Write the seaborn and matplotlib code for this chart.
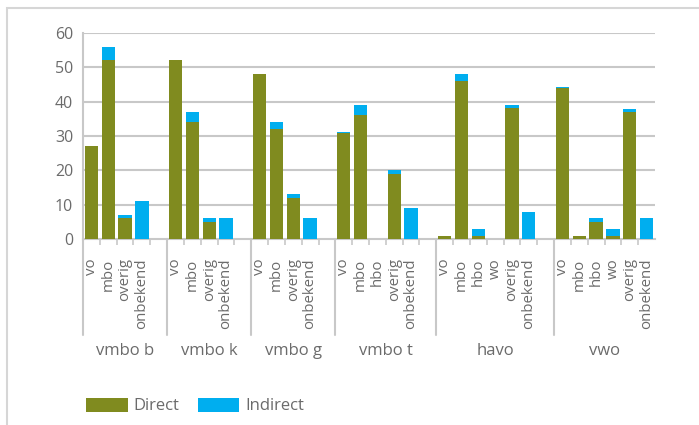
import matplotlib
matplotlib.use("Agg")
import matplotlib.pyplot as plt
import matplotlib.transforms as mtransforms
from matplotlib.patches import Rectangle, Patch
import seaborn as sns
import pandas as pd

# ---------------- data ----------------
groups = ["vmbo b", "vmbo k", "vmbo g", "vmbo t", "havo", "vwo"]
group_cats = [
    ["vo", "mbo", "overig", "onbekend"],
    ["vo", "mbo", "overig", "onbekend"],
    ["vo", "mbo", "overig", "onbekend"],
    ["vo", "mbo", "hbo", "overig", "onbekend"],
    ["vo", "mbo", "hbo", "wo", "overig", "onbekend"],
    ["vo", "mbo", "hbo", "wo", "overig", "onbekend"],
]
direct = [
    [27, 52, 6, 0],
    [52, 34, 5, 0],
    [48, 32, 12, 0],
    [30.8, 36, 0.1, 19, 0],
    [1, 46, 1, 0.1, 38.2, 0],
    [44, 1, 5, 1, 37, 0],
]
indirect = [
    [0, 4, 1, 11],
    [0, 3, 1, 6],
    [0, 2, 1, 6],
    [0.3, 3, 0, 1, 9],
    [0, 2, 2, 0, 0.8, 8],
    [0.2, 0, 1, 2, 1, 6],
]
yticks = [0, 10, 20, 30, 40, 50, 60]
series_names = ["Direct", "Indirect"]

# ---------------- styling ----------------
OLIVE = "#808b1f"
BLUE = "#00aeef"
TEXT = "#6b6b6b"
GRID = "#c8c8c8"

sns.set_theme(style="white")
plt.rcParams["font.family"] = ["Open Sans", "DejaVu Sans"]

# build table with blank separator slots between groups
rows = []
order = []
tick_pos, tick_lab = [], []
group_bounds = [-0.5]
pos = 0
for gi, (g, cats) in enumerate(zip(groups, group_cats)):
    for ci, c in enumerate(cats):
        key = f"{g}|{c}"
        order.append(key)
        rows.append({"key": key, "direct": direct[gi][ci],
                     "total": direct[gi][ci] + indirect[gi][ci]})
        tick_pos.append(pos)
        tick_lab.append(c)
        pos += 1
    if gi < len(groups) - 1:
        order.append(f"blank{gi}")
        pos += 1
    group_bounds.append(pos - 0.5)
df = pd.DataFrame(rows)

W, H = 699, 425
fig = plt.figure(figsize=(W / 100, H / 100), dpi=100)
x0, x1, ytop, ybot = 83, 655, 33, 239
ax = fig.add_axes([x0 / W, (H - ybot) / H, (x1 - x0) / W, (ybot - ytop) / H])

sns.barplot(data=df, x="key", y="total", order=order, color=BLUE, width=0.79,
            saturation=1, linewidth=0, errorbar=None, ax=ax, zorder=3)
sns.barplot(data=df, x="key", y="direct", order=order, color=OLIVE, width=0.79,
            saturation=1, linewidth=0, errorbar=None, ax=ax, zorder=4)

ax.set_xlim(-0.5, len(order) - 0.5)
ax.set_ylim(0, 60)
ax.set_xlabel("")
ax.set_ylabel("")
ax.set_yticks(yticks)
ax.set_yticklabels([str(v) for v in yticks])
for v in yticks[1:]:
    ax.axhline(v, color=GRID, lw=1.5, zorder=1)

ax.tick_params(axis="y", length=0, pad=7, labelsize=11.5, labelcolor=TEXT)
ax.set_xticks(tick_pos)
ax.set_xticklabels(tick_lab, rotation=90, fontsize=10.8, color=TEXT)
ax.tick_params(axis="x", which="major", length=0, pad=14)
ax.set_xticks([i - 0.5 for i in range(1, len(order))], minor=True)
ax.tick_params(axis="x", which="minor", length=4, width=1.2, color=GRID,
               direction="out", bottom=True)

for s in ["top", "right"]:
    ax.spines[s].set_visible(False)
for s in ["left", "bottom"]:
    ax.spines[s].set_color(GRID)
    ax.spines[s].set_linewidth(1.5)

# group separators and group labels
trans = mtransforms.blended_transform_factory(ax.transData, ax.transAxes)
sep_y = (ybot - 335) / (ybot - ytop)
lab_y = (ybot - 351) / (ybot - ytop)
for b in group_bounds[:-1]:
    ax.plot([b, b], [0, sep_y], transform=trans, color=GRID, lw=1.5,
            clip_on=False, zorder=2)
for gi, g in enumerate(groups):
    cx = (group_bounds[gi] + group_bounds[gi + 1]) / 2
    ax.text(cx, lab_y, g, transform=trans, ha="center", va="center",
            fontsize=12, color=TEXT)

# legend
handles = [Patch(facecolor=OLIVE, edgecolor="none"), Patch(facecolor=BLUE, edgecolor="none")]
fig.legend(handles, series_names, loc="center left",
           bbox_to_anchor=(86 / W, (H - 406) / H), ncol=2, frameon=False,
           borderpad=0, borderaxespad=0, handlelength=2.5, handleheight=0.9,
           handletextpad=0.35, columnspacing=1.1, labelcolor=TEXT, fontsize=12)

# outer frame (top/left visible)
fig.patches.append(Rectangle((7 / W, -0.1), 1.2, 1 - 8 / H + 0.1,
                             transform=fig.transFigure, fill=False,
                             edgecolor="#d6d6d6", lw=1.5))

fig.savefig("out.png", dpi=100)
